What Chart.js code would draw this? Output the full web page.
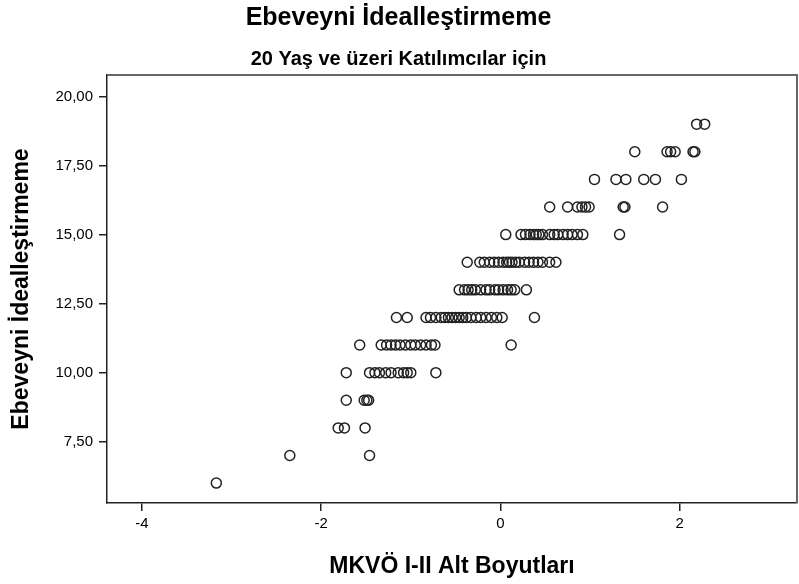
<!DOCTYPE html>
<html>
<head>
<meta charset="utf-8">
<script src="https://cdn.jsdelivr.net/npm/chart.js@4.4.1/dist/chart.umd.min.js"></script>
<style>
    body { margin: 0; background: #fff; }
    canvas { display: block; }
</style>
</head>
<body>
<canvas id="scatter" width="799" height="584"></canvas>
<script>
// MKVÖ I-II Alt Boyutları (x) and Ebeveyni İdealleştirmeme (y), one pair per participant
const mkvoScores = [
    2.19, 2.28,                                                         // 19
    1.50, 1.86, 1.90, 1.95, 2.15, 2.17,                                 // 18
    1.05, 1.29, 1.40, 1.60, 1.73, 2.02,                                 // 17
    0.55, 0.75, 0.86, 0.91, 0.95, 0.99, 1.37, 1.39, 1.81,               // 16
    0.06, 0.23, 0.28, 0.33, 0.37, 0.40, 0.43, 0.47, 0.55, 0.60, 0.64,
    0.70, 0.75, 0.80, 0.86, 0.92, 1.33,                                 // 15
    -0.37, -0.23, -0.18, -0.12, -0.07, -0.02, 0.03, 0.07, 0.10, 0.13,
    0.17, 0.21, 0.27, 0.32, 0.37, 0.42, 0.47, 0.55, 0.62,               // 14
    -0.46, -0.40, -0.36, -0.32, -0.28, -0.22, -0.16, -0.12, -0.06, -0.02,
    0.03, 0.08, 0.12, 0.16, 0.29,                                       // 13
    -1.16, -1.04, -0.83, -0.78, -0.72, -0.66, -0.62, -0.58, -0.54, -0.50,
    -0.46, -0.42, -0.38, -0.33, -0.27, -0.22, -0.16, -0.10, -0.04, 0.02,
    0.38,                                                               // 12
    -1.57, -1.33, -1.27, -1.22, -1.17, -1.12, -1.06, -1.00, -0.95, -0.89,
    -0.83, -0.77, -0.73, 0.12,                                          // 11
    -1.72, -1.46, -1.40, -1.35, -1.28, -1.22, -1.14, -1.08, -1.04, -1.00,
    -0.72,                                                              // 10
    -1.72, -1.52, -1.49, -1.47,                                         // 9
    -1.81, -1.74, -1.51,                                                // 8
    -2.35, -1.46,                                                       // 7
    -3.17                                                               // 6
];

const idealScores = [
    19, 19,
    18, 18, 18, 18, 18, 18,
    17, 17, 17, 17, 17, 17,
    16, 16, 16, 16, 16, 16, 16, 16, 16,
    15, 15, 15, 15, 15, 15, 15, 15, 15, 15, 15,
    15, 15, 15, 15, 15, 15,
    14, 14, 14, 14, 14, 14, 14, 14, 14, 14,
    14, 14, 14, 14, 14, 14, 14, 14, 14,
    13, 13, 13, 13, 13, 13, 13, 13, 13, 13,
    13, 13, 13, 13, 13,
    12, 12, 12, 12, 12, 12, 12, 12, 12, 12,
    12, 12, 12, 12, 12, 12, 12, 12, 12, 12,
    12,
    11, 11, 11, 11, 11, 11, 11, 11, 11, 11,
    11, 11, 11, 11,
    10, 10, 10, 10, 10, 10, 10, 10, 10, 10,
    10,
    9, 9, 9, 9,
    8, 8, 8,
    7, 7,
    6
];

const xTicks = [-4, -2, 0, 2];
const yTicks = [7.5, 10, 12.5, 15, 17.5, 20];

const points = mkvoScores.map((x, i) => ({ x: x, y: idealScores[i] }));

const FONT = "'Liberation Sans', Arial, sans-serif";

// SPSS style box round the plot
const frame = {
    id: "frame",
    afterDraw(chart) {
        const { ctx, chartArea: a } = chart;
        ctx.save();
        ctx.strokeStyle = "#666";
        ctx.lineWidth = 2;
        ctx.beginPath();
        ctx.moveTo(a.left, a.top);
        ctx.lineTo(a.right, a.top);
        ctx.lineTo(a.right, a.bottom);
        ctx.stroke();
        ctx.restore();
    }
};

new Chart(document.getElementById("scatter").getContext("2d"), {
    type: "scatter",
    data: {
        datasets: [{
            data: points,
            pointStyle: "circle",
            pointRadius: 5,
            pointHoverRadius: 5,
            borderWidth: 1.5,
            borderColor: "#222",
            backgroundColor: "rgba(0,0,0,0)"
        }]
    },
    options: {
        responsive: false,
        animation: false,
        devicePixelRatio: 1,
        layout: {
            autoPadding: false,
            padding: { left: 0, right: 2, top: 0, bottom: 0 }
        },
        plugins: {
            legend: { display: false },
            tooltip: { enabled: false },
            title: {
                display: true,
                text: "Ebeveyni İdealleştirmeme",
                color: "#000",
                font: { family: FONT, size: 25, weight: "bold" },
                padding: { top: 3, bottom: 10 }
            },
            subtitle: {
                display: true,
                text: "20 Yaş ve üzeri Katılımcılar için",
                color: "#000",
                font: { family: FONT, size: 20, weight: "bold" },
                padding: { top: 4, bottom: 4 }
            }
        },
        scales: {
            x: {
                type: "linear",
                min: -4.39,
                max: 3.31,
                afterBuildTicks: (s) => { s.ticks = xTicks.map(v => ({ value: v })); },
                afterFit: (s) => { s.height = 81; },
                border: { display: true, color: "#222", width: 1.5 },
                grid: { drawOnChartArea: false, drawTicks: true, tickLength: 8, color: "#222", lineWidth: 1.5 },
                ticks: {
                    color: "#000",
                    padding: 4,
                    font: { family: FONT, size: 15 },
                    callback: (v) => String(v)
                },
                title: {
                    display: true,
                    text: "MKVÖ I-II Alt Boyutları",
                    color: "#000",
                    font: { family: FONT, size: 23, weight: "bold" },
                    padding: { top: 0, bottom: 4 }
                }
            },
            y: {
                type: "linear",
                min: 5.28,
                max: 20.78,
                afterBuildTicks: (s) => { s.ticks = yTicks.map(v => ({ value: v })); },
                afterFit: (s) => { s.width = 107; },
                border: { display: true, color: "#222", width: 1.5 },
                grid: { drawOnChartArea: false, drawTicks: true, tickLength: 8, color: "#222", lineWidth: 1.5 },
                ticks: {
                    color: "#000",
                    padding: 6,
                    font: { family: FONT, size: 15 },
                    callback: (v) => v.toFixed(2).replace(".", ",")
                },
                title: {
                    display: true,
                    text: "Ebeveyni İdealleştirmeme",
                    color: "#000",
                    font: { family: FONT, size: 23, weight: "bold" },
                    padding: { top: 8, bottom: 0 }
                }
            }
        }
    },
    plugins: [frame]
});
</script>
</body>
</html>
